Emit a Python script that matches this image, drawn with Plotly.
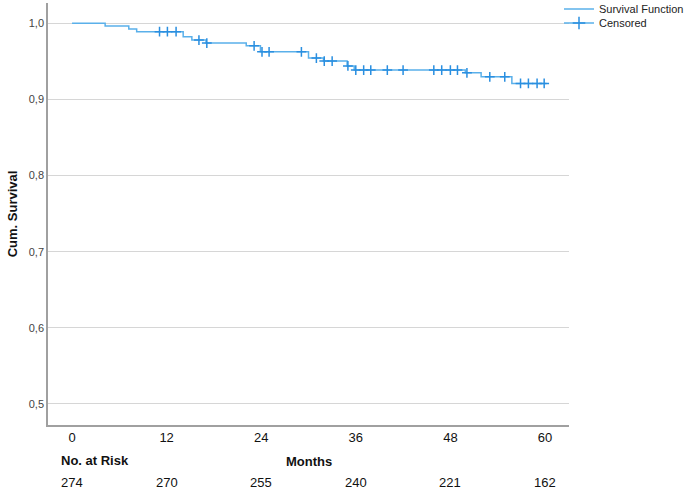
import plotly.graph_objects as go

# Kaplan-Meier step data (months, cumulative survival)
step_times = [0, 4.2, 7.2, 8.2, 14.1, 15.2, 17.0, 22.1, 23.9, 30.0, 31.9, 34.9, 35.8, 49.9, 51.9, 55.8, 60.2]
step_surv = [1.0, 0.9964, 0.9927, 0.9891, 0.9825, 0.978, 0.974, 0.9705, 0.9626, 0.9543, 0.9504, 0.944, 0.9386, 0.935, 0.9297, 0.921, 0.921]

# Censored observation times (months)
censored_times = [11.1, 12.1, 13.2, 16.1, 17.1, 23.1, 24.1, 25.0, 29.1, 31.0, 32.0, 33.0, 35.0, 36.0,
                  37.0, 37.9, 40.0, 42.0, 45.9, 46.9, 48.0, 48.9, 50.1, 53.0, 54.9, 56.9, 57.9, 59.0, 59.9]

# Axis ticks and number at risk
x_ticks = [0, 12, 24, 36, 48, 60]
at_risk = [274, 270, 255, 240, 221, 162]
y_ticks = [0.5, 0.6, 0.7, 0.8, 0.9, 1.0]
y_ticklabels = ["0,5", "0,6", "0,7", "0,8", "0,9", "1,0"]


def surv_at(t):
    v = step_surv[0]
    for st, sv in zip(step_times, step_surv):
        if st <= t:
            v = sv
    return v


censored_surv = [surv_at(t) for t in censored_times]

LINE_COL = "#5AB0EA"
MARK_COL = "#2A8FE0"
FONT = "Liberation Sans, Arial, sans-serif"

fig = go.Figure()
fig.add_trace(go.Scatter(
    x=step_times, y=step_surv, mode="lines", line=dict(shape="hv", color=LINE_COL, width=1.5),
    name="Survival Function", legend="legend"))
fig.add_trace(go.Scatter(
    x=censored_times, y=censored_surv, mode="markers",
    marker=dict(symbol="cross-thin", size=7, line=dict(color=MARK_COL, width=1.5)),
    name="Censored", showlegend=False))
# legend entry for censored marks (line with cross)
fig.add_trace(go.Scatter(
    x=[None], y=[None], mode="lines+markers",
    line=dict(color=LINE_COL, width=1.5),
    marker=dict(symbol="cross-thin", size=9, line=dict(color=MARK_COL, width=1.5)),
    name="Censored", legend="legend2"))

annotations = [
    dict(text="<b>No. at Risk</b>", x=-1.7, xref="x", xanchor="left", y=-0.085, yref="paper",
         yanchor="middle", showarrow=False, font=dict(size=13, color="#111", family=FONT)),
    dict(text="<b>Months</b>", x=30, xref="x", xanchor="center", y=-0.087, yref="paper",
         yanchor="middle", showarrow=False, font=dict(size=13, color="#111", family=FONT)),
]
for t, n in zip(x_ticks, at_risk):
    annotations.append(dict(text=str(n), x=t, xref="x", xanchor="center", y=-0.137, yref="paper",
                            yanchor="middle", showarrow=False,
                            font=dict(size=13, color="#111", family=FONT)))

leg_common = dict(xref="container", yref="container", xanchor="left", yanchor="middle",
                  bgcolor="rgba(0,0,0,0)", font=dict(size=11, color="#222", family=FONT),
                  itemwidth=30, borderwidth=0)

fig.update_layout(
    width=688, height=492,
    margin=dict(l=48, r=119, t=3, b=67, autoexpand=False),
    paper_bgcolor="white", plot_bgcolor="white",
    font=dict(family=FONT, color="#222"),
    showlegend=True,
    legend=dict(x=559 / 688, y=1 - 9 / 492, **leg_common),
    legend2=dict(x=559 / 688, y=1 - 23 / 492, **leg_common),
    xaxis=dict(range=[-3.05, 63.05], tickvals=x_ticks, ticktext=[str(t) for t in x_ticks],
               showgrid=False, zeroline=False, showline=True, linecolor="#a0a0a0", linewidth=1.5,
               ticks="", automargin=False, tickfont=dict(size=13, color="#111", family=FONT)),
    yaxis=dict(range=[0.4724, 1.0267], tickvals=y_ticks, ticktext=y_ticklabels,
               showgrid=True, gridcolor="#d6d6d6", gridwidth=1.2, zeroline=False,
               showline=True, linecolor="#a0a0a0", linewidth=1.5, ticks="", automargin=False,
               tickfont=dict(size=11, color="#444", family=FONT),
               title=dict(text="<b>Cum. Survival</b>", font=dict(size=13, color="#111", family=FONT),
                          standoff=8)),
    annotations=annotations,
)

fig.write_html("out.html", config={"displayModeBar": False},
               post_script="document.body.style.margin='0px';document.body.style.overflow='hidden';")
